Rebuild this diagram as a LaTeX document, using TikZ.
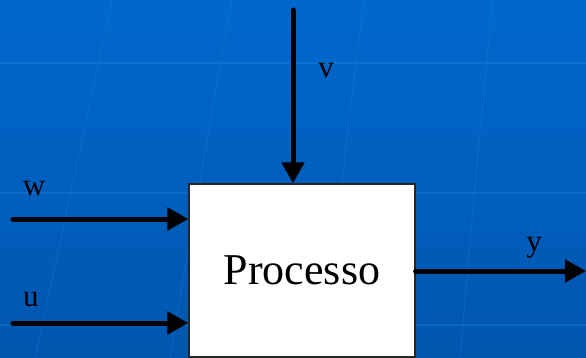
\documentclass[tikz,border=0pt]{standalone}
\usepackage{fontspec}
\setmainfont{Liberation Serif}
\usetikzlibrary{arrows.meta,positioning}
\definecolor{slidetop}{RGB}{0,104,205}
\definecolor{slidebot}{RGB}{0,86,174}
\definecolor{slideline}{RGB}{28,122,218}

\tikzset{
  sig/.style={line width=5pt, line cap=round, -{Triangle[length=21pt,width=22pt]}},
  lbl/.style={inner sep=0pt, font=\fontsize{31}{31}\selectfont},
  block/.style={draw=black!85, line width=1.3pt, fill=white, minimum width=226pt, minimum height=173pt,
    font=\fontsize{44}{44}\selectfont},
}

\begin{document}
\begin{tikzpicture}[x=1pt,y=-1pt]
    \clip (0,0) rectangle (586,358); % slide area

    % background of the slide
    \shade[top color=slidetop, bottom color=slidebot] (0,0) rectangle (586,358);
    \foreach \yy in {63,193,325}
      \draw[slideline, line width=1.2pt, opacity=.45] (0,\yy) -- (586,\yy);
    \draw[slideline, line width=1pt, opacity=.35] (112,0) .. controls (80,150) .. (35,358);
    \draw[slideline, line width=1pt, opacity=.35] (232,0) .. controls (205,150) .. (170,358);
    \draw[slideline, line width=1pt, opacity=.35] (364,0) .. controls (345,150) .. (325,358);
    \draw[slideline, line width=1pt, opacity=.35] (493,0) .. controls (478,150) .. (460,358);

    % the process block
    \node[block] (proc) at (302,270.5) {Processo};

    % inputs and output
    \coordinate (vin) at (293,10);
    \coordinate (win) at (13,219);
    \coordinate (uin) at (13,323);
    \coordinate (yout) at (586,271);
    \draw[sig] (vin) -- (vin |- proc.north);
    \draw[sig] (win) -- (win -| proc.west);
    \draw[sig] (uin) -- (uin -| proc.west);
    \draw[sig] (proc.east |- yout) -- (yout);

    \node[lbl] (vlbl) at (326,71) {v};
    \node[lbl] (wlbl) at (34,189) {w};
    \node[lbl] (ulbl) at (31,300) {u};
    \node[lbl] (ylbl) at (534,248) {y};
\end{tikzpicture}
\end{document}
